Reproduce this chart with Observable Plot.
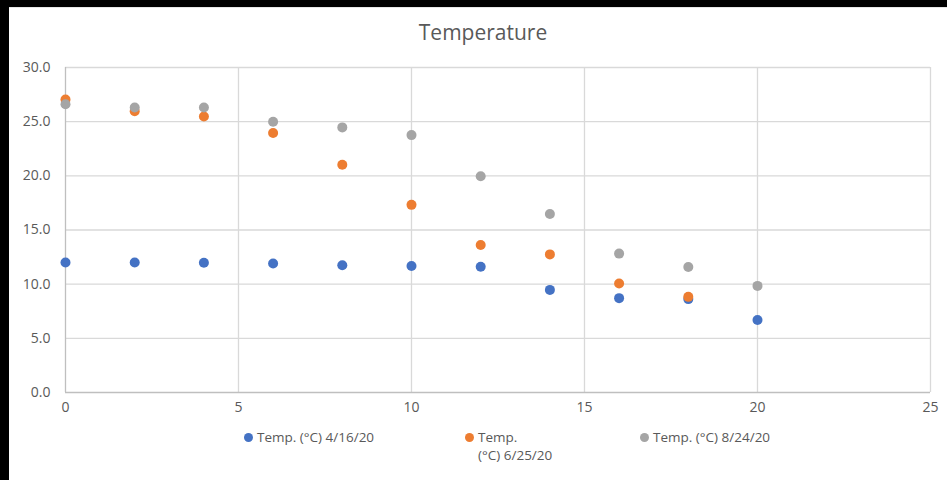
<!DOCTYPE html>
<html>
<head>
<meta charset="utf-8">
<script src="https://cdn.jsdelivr.net/npm/d3@7"></script>
<script src="https://cdn.jsdelivr.net/npm/@observablehq/plot@0.6"></script>
<style>
  html, body { margin: 0; padding: 0; background: #000; width: 947px; height: 480px; overflow: hidden; }
  #frame { position: absolute; left: 9px; top: 7px; width: 938px; height: 473px; background: #fff; border-top: 1px solid #e6e6e6; box-sizing: border-box; font-family: "Open Sans", sans-serif; }
  #title { position: absolute; left: 0; top: 10px; width: 948px; text-align: center; font-size: 21px; color: #595959; }
  #chart { position: absolute; left: 0; top: -1px; }
  .item { position: absolute; top: 420px; font-size: 13.5px; color: #595959; line-height: 18px; white-space: nowrap; }
  .item .dot { position: absolute; left: -13px; top: 5px; width: 9px; height: 9px; border-radius: 50%; }
</style>
</head>
<body>
<div id="frame">
  <div id="chart"></div>
  <div id="title">Temperature</div>
  <div id="legend"></div>
</div>
<script>
const xs = [0, 2, 4, 6, 8, 10, 12, 14, 16, 18, 20];
const seriesNames = ["Temp. (°C) 4/16/20", "Temp. (°C) 6/25/20", "Temp. (°C) 8/24/20"];
const colors = ["#4472C4", "#ED7D31", "#A5A5A5"];
const temp0416 = [12.0, 12.0, 11.97, 11.9, 11.74, 11.68, 11.6, 9.47, 8.71, 8.62, 6.69];
const temp0625 = [27.05, 25.97, 25.48, 23.95, 21.03, 17.32, 13.62, 12.75, 10.06, 8.83];
const temp0824 = [26.6, 26.3, 26.3, 25.0, 24.47, 23.76, 19.96, 16.47, 12.82, 11.59, 9.84];
const xTicks = [0, 5, 10, 15, 20, 25];
const yTicks = [0, 5, 10, 15, 20, 25, 30];

const allSeries = [temp0416, temp0625, temp0824];
const data = [];
allSeries.forEach((vals, si) => {
  vals.forEach((v, i) => data.push({x: xs[i], y: v, series: seriesNames[si]}));
});

const plot = Plot.plot({
  width: 938,
  height: 421,
  marginLeft: 56,
  marginRight: 17,
  marginTop: 60,
  marginBottom: 36,
  style: {fontFamily: "'Open Sans', sans-serif", fontSize: "14px", color: "#595959", background: "transparent"},
  x: {domain: [0, 25], ticks: xTicks, tickSize: 0, tickPadding: 10, label: null, tickFormat: d3.format("d")},
  y: {domain: [0, 30], ticks: yTicks, tickSize: 0, tickPadding: 15, label: null, tickFormat: d3.format(".1f")},
  color: {domain: seriesNames, range: colors},
  marks: [
    Plot.ruleX(xTicks.filter(d => d > 0), {stroke: "#d9d9d9", strokeWidth: 1.3}),
    Plot.ruleY(yTicks.filter(d => d > 0), {stroke: "#d9d9d9", strokeWidth: 1.3}),
    Plot.ruleX([0], {stroke: "#bfbfbf", strokeWidth: 1.3}),
    Plot.ruleY([0], {stroke: "#bfbfbf", strokeWidth: 1.3}),
    Plot.dot(data, {x: "x", y: "y", fill: "series", r: 5, stroke: "none"})
  ]
});
document.getElementById("chart").appendChild(plot);

const legend = document.getElementById("legend");
const legendLeft = [248, 469, 644];
seriesNames.forEach((name, i) => {
  const item = document.createElement("div");
  item.className = "item";
  item.style.left = legendLeft[i] + "px";
  const dot = document.createElement("span");
  dot.className = "dot";
  dot.style.background = colors[i];
  item.appendChild(dot);
  if (i === 1) {
    const k = name.indexOf(" ");
    item.appendChild(document.createTextNode(name.slice(0, k)));
    item.appendChild(document.createElement("br"));
    item.appendChild(document.createTextNode(name.slice(k + 1)));
  } else {
    item.appendChild(document.createTextNode(name));
  }
  legend.appendChild(item);
});
</script>
</body>
</html>
